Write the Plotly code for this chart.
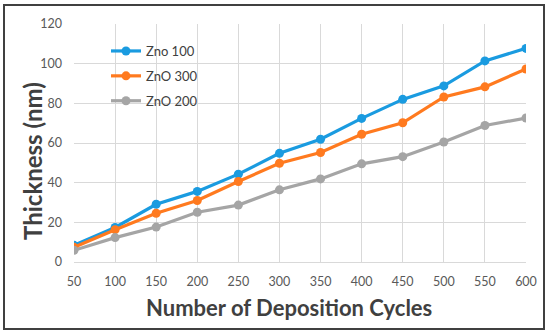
import plotly.graph_objects as go

cycles = [50, 100, 150, 200, 250, 300, 350, 400, 450, 500, 550, 600]
zno100 = [8.4, 17.4, 29.1, 35.6, 44.3, 54.8, 61.9, 72.4, 82.0, 88.8, 101.4, 107.7]
zno300 = [7.4, 16.3, 24.6, 31.0, 40.6, 49.8, 55.2, 64.4, 70.2, 83.2, 88.3, 97.3]
zno200 = [5.9, 12.3, 17.6, 25.1, 28.7, 36.4, 41.9, 49.5, 53.1, 60.5, 68.8, 72.6]
names = ["Zno 100", "ZnO 300", "ZnO 200"]
colors = ["#1A9BE0", "#FF7A1F", "#A5A5A5"]
x_title = "Number of Deposition Cycles"
y_title = "Thickness (nm)"

FONT = "Lato"
fig = go.Figure()
for i, (n, ys, c) in enumerate(zip(names, [zno100, zno300, zno200], colors)):
    fig.add_trace(go.Scatter(
        x=cycles, y=ys, name=n, mode="lines+markers",
        line=dict(color=c, width=3.2),
        marker=dict(color=c, size=9),
        legendgroup=f"g{i}",
    ))

L, R, T, B = 74, 24, 24, 72
W, H = 550, 334
pw, ph = W - L - R, H - T - B

def px(x):
    return (x - L) / pw

def py(y):
    return (H - B - y) / ph

fig.update_layout(
    width=W, height=H,
    margin=dict(l=L, r=R, t=T, b=B),
    paper_bgcolor="white", plot_bgcolor="white",
    font=dict(family=FONT, color="#595959", size=12),
    showlegend=True,
    legend=dict(x=px(106), y=py(36), xanchor="left", yanchor="top",
                bgcolor="rgba(0,0,0,0)", font=dict(size=13, color="#404040"),
                traceorder="grouped", tracegroupgap=5, itemwidth=30),
    xaxis=dict(range=[50, 600], tickmode="array", tickvals=cycles,
               showgrid=True, gridcolor="#D9D9D9", gridwidth=1,
               showline=True, linecolor="#D9D9D9", zeroline=False,
               ticks="", ticklabelstandoff=8,
               tickfont=dict(size=12.5, color="#595959")),
    yaxis=dict(range=[0, 120], dtick=20,
               showgrid=True, gridcolor="#D9D9D9", gridwidth=1,
               zeroline=False, showline=False, ticks="", ticklabelstandoff=11,
               tickfont=dict(size=12.5, color="#595959")),
    annotations=[
        dict(text=f"<b>{x_title}</b>", xref="paper", yref="paper",
             x=px(289), y=py(307), xanchor="center", yanchor="middle",
             showarrow=False, font=dict(size=22, color="#404040")),
        dict(text=f"<b>{y_title}</b>", xref="paper", yref="paper",
             x=px(32), y=py(161), xanchor="center", yanchor="middle",
             textangle=-90, showarrow=False, font=dict(size=24, color="#404040")),
    ],
    shapes=[dict(type="rect", xref="paper", yref="paper",
                 x0=px(4), x1=px(544), y0=py(329), y1=py(5),
                 line=dict(color="#404040", width=2), fillcolor="rgba(0,0,0,0)",
                 layer="below")],
)

fig.write_html("out.html", config={"displayModeBar": False},
               post_script="document.body.style.margin='0';document.body.style.overflow='hidden';")
